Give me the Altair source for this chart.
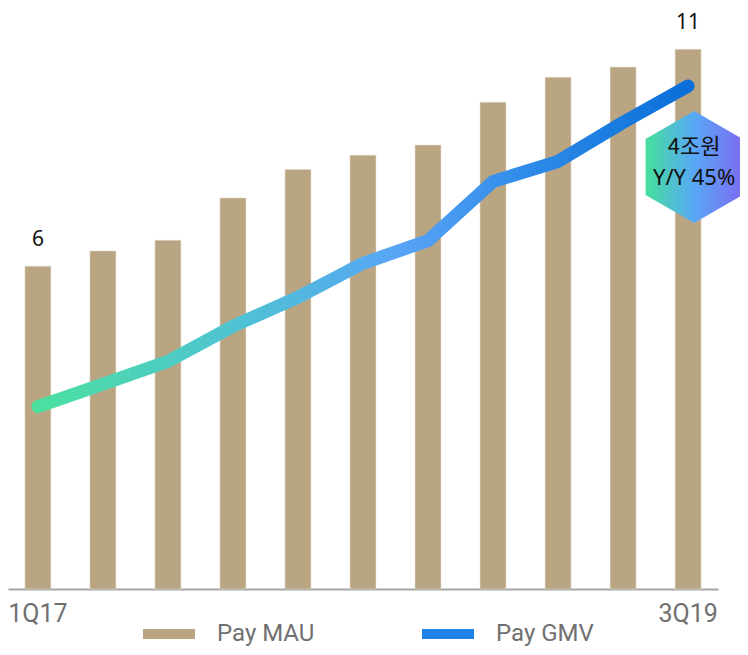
import altair as alt
import pandas as pd

quarters = ["1Q17", "2Q17", "3Q17", "4Q17", "1Q18", "2Q18", "3Q18", "4Q18", "1Q19", "2Q19", "3Q19"]
pay_mau = [6.34, 6.64, 6.85, 7.68, 8.24, 8.52, 8.72, 9.56, 10.05, 10.25, 10.60]
pay_gmv = [1.45, 1.63, 1.81, 2.09, 2.32, 2.59, 2.77, 3.24, 3.40, 3.71, 4.00]
mau_labels = ["6", "", "", "", "", "", "", "", "", "", "11"]
series_names = ["Pay MAU", "Pay GMV"]

callout_quarter = ["3Q19"]
callout_value = [3.356]
callout_line1 = ["4조원"]
callout_line2 = ["Y/Y 45%"]

df = pd.DataFrame({"q": quarters, "mau": pay_mau, "gmv": pay_gmv,
                   "lbl": mau_labels, "series": ["Pay MAU"] * len(quarters)})
callout = pd.DataFrame({"q": callout_quarter, "v": callout_value,
                        "t1": callout_line1, "t2": callout_line2})

x_enc = alt.X("q:N", sort=quarters,
              scale=alt.Scale(paddingInner=0.6, paddingOuter=0.26),
              axis=alt.Axis(values=["1Q17", "3Q19"], ticks=False, grid=False,
                            domainColor="#a6a6a6", domainWidth=2, labelAngle=0,
                            labelFont="Roboto", labelFontSize=25, labelColor="#707070",
                            labelPadding=12, title=None))

mau_scale = alt.Scale(domain=[0, 11.41])
gmv_scale = alt.Scale(domain=[0, 4.62])

legend_shape = "M-5.2,-1L5.2,-1L5.2,1L-5.2,1Z"

bars = alt.Chart(df).mark_bar(stroke="#e8e1d4", strokeWidth=0.5).encode(
    x=x_enc,
    y=alt.Y("mau:Q", scale=mau_scale, axis=None),
    color=alt.Color("series:N",
                    scale=alt.Scale(domain=series_names, range=["#b9a582", "#1f82e6"]),
                    legend=alt.Legend(orient="none", legendX=149, legendY=614,
                                      direction="horizontal", title=None,
                                      symbolType=legend_shape, symbolSize=100,
                                      symbolStrokeWidth=0, symbolOpacity=1,
                                      labelFont="Roboto", labelFontSize=24,
                                      labelColor="#707070", labelOffset=36,
                                      columnPadding=107)),
)

labels = alt.Chart(df).transform_filter("datum.lbl != ''").mark_text(
    baseline="alphabetic", dy=-20, fontSize=21, font="Noto Sans", color="#111111"
).encode(
    x=alt.X("q:N", sort=quarters),
    y=alt.Y("mau:Q", scale=mau_scale, axis=None),
    text="lbl:N",
)

line_grad = alt.LinearGradient(
    gradient="linear",
    stops=[alt.GradientStop(color="#4be0a0", offset=0),
           alt.GradientStop(color="#4fc3d2", offset=0.3),
           alt.GradientStop(color="#58a4f6", offset=0.56),
           alt.GradientStop(color="#2d8ae8", offset=0.76),
           alt.GradientStop(color="#0a6fd8", offset=1)],
    x1=0, x2=1, y1=0, y2=0)

line = alt.Chart(df).mark_line(stroke=line_grad, strokeWidth=13,
                               strokeCap="round", strokeJoin="round").encode(
    x=alt.X("q:N", sort=quarters),
    y=alt.Y("gmv:Q", scale=gmv_scale, axis=None),
)

hex_grad = alt.LinearGradient(
    gradient="linear",
    stops=[alt.GradientStop(color="#45e09e", offset=0),
           alt.GradientStop(color="#58a8f5", offset=0.5),
           alt.GradientStop(color="#7b6cf2", offset=1)],
    x1=0, x2=1, y1=0, y2=0)

hexagon = alt.Chart(callout).mark_point(
    shape="M0,-1L0.866,-0.5L0.866,0.5L0,1L-0.866,0.5L-0.866,-0.5Z",
    size=12544, filled=True, fill=hex_grad, opacity=1, strokeWidth=0, xOffset=6
).encode(
    x=alt.X("q:N", sort=quarters),
    y=alt.Y("v:Q", scale=gmv_scale, axis=None),
)

callout_txt1 = alt.Chart(callout).mark_text(
    font="Noto Sans CJK KR", fontSize=22, baseline="alphabetic", align="center",
    color="#111111", xOffset=6, dy=-13
).encode(
    x=alt.X("q:N", sort=quarters),
    y=alt.Y("v:Q", scale=gmv_scale, axis=None),
    text="t1:N",
)

callout_txt2 = alt.Chart(callout).mark_text(
    font="Noto Sans", fontSize=22, baseline="alphabetic", align="center",
    color="#111111", xOffset=6, dy=18
).encode(
    x=alt.X("q:N", sort=quarters),
    y=alt.Y("v:Q", scale=gmv_scale, axis=None),
    text="t2:N",
)

chart = alt.layer(
    alt.layer(bars, labels),
    alt.layer(line, hexagon, callout_txt1, callout_txt2),
).resolve_scale(y="independent").properties(
    width=710, height=581,
    autosize=alt.AutoSizeParams(type="none"),
    padding={"left": 0, "top": 0, "right": 22, "bottom": 58},
).configure_view(strokeWidth=0)

chart.save("out.html", embed_options={"renderer": "svg", "actions": False})
